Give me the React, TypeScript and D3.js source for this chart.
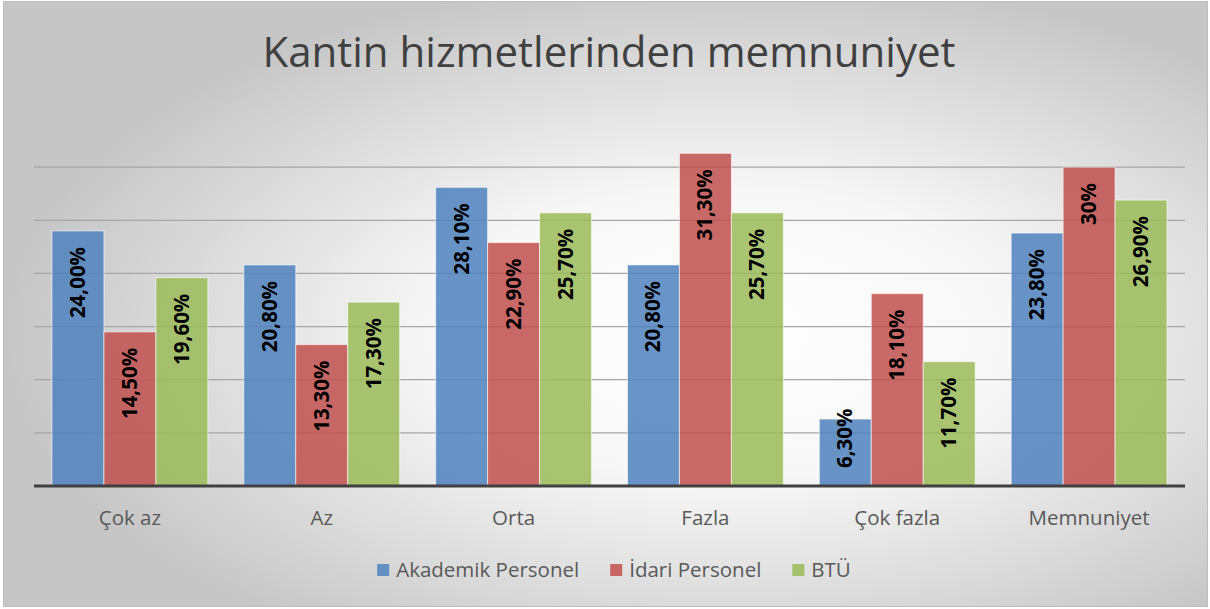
import { useRef, useEffect } from 'react'
import * as d3 from 'd3'

const categories = ['Çok az', 'Az', 'Orta', 'Fazla', 'Çok fazla', 'Memnuniyet']
const seriesNames = ['Akademik Personel', 'İdari Personel', 'BTÜ']
const akademik = [24.0, 20.8, 28.1, 20.8, 6.3, 23.8]
const idari = [14.5, 13.3, 22.9, 31.3, 18.1, 30.0]
const btu = [19.6, 17.3, 25.7, 25.7, 11.7, 26.9]
const akademikLabels = ['24,00%', '20,80%', '28,10%', '20,80%', '6,30%', '23,80%']
const idariLabels = ['14,50%', '13,30%', '22,90%', '31,30%', '18,10%', '30%']
const btuLabels = ['19,60%', '17,30%', '25,70%', '25,70%', '11,70%', '26,90%']
const gridTicks = [5, 10, 15, 20, 25, 30]
const colors = ['#4F81BD', '#C0504D', '#9BBB59']

const W = 1210
const H = 609
const FONT = '"Open Sans", "Noto Sans", sans-serif'

export default function App() {
  const ref = useRef<SVGSVGElement>(null)

  useEffect(() => {
    document.body.style.margin = '0'
    if (!ref.current) return
    const svg = d3.select(ref.current)
    svg.selectAll('*').remove()

    const defs = svg.append('defs')
    const bg = defs.append('radialGradient')
      .attr('id', 'bg')
      .attr('cx', '60%').attr('cy', '55%').attr('r', '60%')
      .attr('gradientUnits', 'objectBoundingBox')
    bg.append('stop').attr('offset', '0%').attr('stop-color', '#ffffff')
    bg.append('stop').attr('offset', '40%').attr('stop-color', '#f7f7f7')
    bg.append('stop').attr('offset', '100%').attr('stop-color', '#c6c6c6')

    svg.append('rect')
      .attr('x', 3.5).attr('y', 1.5).attr('width', W - 6).attr('height', H - 4)
      .attr('fill', 'url(#bg)')
      .attr('stroke', '#bcbcbc').attr('stroke-width', 1)

    svg.append('text')
      .attr('x', 609).attr('y', 67)
      .attr('text-anchor', 'middle')
      .attr('font-family', FONT)
      .attr('font-size', 42)
      .attr('fill', '#404040')
      .text('Kantin hizmetlerinden memnuniyet')

    const left = 34
    const right = 1185
    const y = d3.scaleLinear().domain([0, 35]).range([486, 114])
    const x0 = d3.scaleBand().domain(categories).range([left, right]).paddingInner(0.1875).paddingOuter(0.09375)
    const x1 = d3.scaleBand().domain(seriesNames).range([0, x0.bandwidth()])

    const grid = svg.append('g')
    grid.selectAll('line').data(gridTicks).enter().append('line')
      .attr('x1', left).attr('x2', right)
      .attr('y1', d => y(d)).attr('y2', d => y(d))
      .attr('stroke', '#a6a6a6').attr('stroke-width', 1.3)

    const series = [
      { name: seriesNames[0], values: akademik, labels: akademikLabels, color: colors[0] },
      { name: seriesNames[1], values: idari, labels: idariLabels, color: colors[1] },
      { name: seriesNames[2], values: btu, labels: btuLabels, color: colors[2] },
    ]

    series.forEach(s => {
      const g = svg.append('g')
      g.selectAll('rect').data(s.values).enter().append('rect')
        .attr('x', (_, i) => (x0(categories[i]) ?? 0) + (x1(s.name) ?? 0))
        .attr('y', d => y(d))
        .attr('width', x1.bandwidth())
        .attr('height', d => y(0) - y(d))
        .attr('fill', s.color)
        .attr('fill-opacity', 0.85)
        .attr('stroke', '#ffffff').attr('stroke-opacity', 0.6).attr('stroke-width', 1)
      g.selectAll('text').data(s.values).enter().append('text')
        .attr('text-anchor', 'end')
        .attr('font-family', FONT)
        .attr('font-weight', 'bold')
        .attr('font-size', 20.5)
        .attr('fill', '#000000')
        .text((_, i) => s.labels[i])
        .each(function (d, i) {
          const len = (this as SVGTextElement).getComputedTextLength()
          const cx = (x0(categories[i]) ?? 0) + (x1(s.name) ?? 0) + x1.bandwidth() / 2
          const endY = Math.min(y(d) + 16, y(0) - 18 - len)
          d3.select(this).attr('transform', `translate(${cx + 7},${endY}) rotate(-90)`)
        })
    })

    svg.append('line')
      .attr('x1', left).attr('x2', right)
      .attr('y1', y(0)).attr('y2', y(0))
      .attr('stroke', '#404040').attr('stroke-width', 3)

    svg.append('g').selectAll('text').data(categories).enter().append('text')
      .attr('x', d => (x0(d) ?? 0) + x0.bandwidth() / 2)
      .attr('y', 525)
      .attr('text-anchor', 'middle')
      .attr('font-family', FONT)
      .attr('font-size', 20.5)
      .attr('fill', '#595959')
      .text(d => d)

    // legend
    const legend = svg.append('g')
    const items = series.map(s => {
      const g = legend.append('g')
      g.append('rect').attr('x', 0).attr('y', -13).attr('width', 12).attr('height', 12)
        .attr('fill', s.color).attr('fill-opacity', 0.85)
      const t = g.append('text').attr('x', 19).attr('y', 0)
        .attr('font-family', FONT).attr('font-size', 20.5).attr('fill', '#595959')
        .text(s.name)
      const w = 19 + (t.node() as SVGTextElement).getComputedTextLength()
      return { g, w }
    })
    const gap = 31
    const total = d3.sum(items, d => d.w) + gap * (items.length - 1)
    let cur = 614 - total / 2
    items.forEach(it => {
      it.g.attr('transform', `translate(${cur},${577})`)
      cur += it.w + gap
    })
  }, [])

  return <svg ref={ref} width={W} height={H} style={{ display: 'block' }} />
}
